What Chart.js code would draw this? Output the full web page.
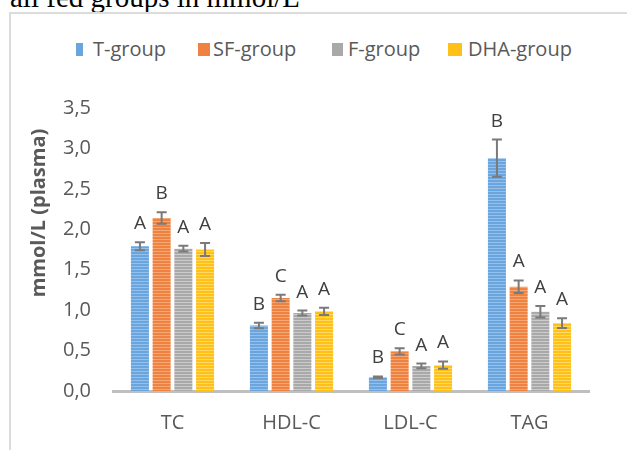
<!DOCTYPE html>
<html>
<head>
<meta charset="utf-8">
<script src="https://cdn.jsdelivr.net/npm/chart.js@4"></script>
<style>
    body { margin: 0; background: #fff; }
    #wrap { position: relative; width: 627px; height: 450px; overflow: hidden; }
    #caption { position: absolute; left: 10px; top: -17px; font: 29px/29px "Liberation Serif", serif; color: #000; white-space: nowrap; }
    #frame { position: absolute; left: 9px; top: 12px; width: 640px; height: 460px; border-left: 2px solid #dcdcdc; border-top: 2px solid #dcdcdc; }
    #legend { position: absolute; left: 0; top: 0; font: 20px/20px "Open Sans", sans-serif; color: #595959; }
    .box { position: absolute; top: 43px; height: 13px; }
    .txt { position: absolute; top: 39px; white-space: nowrap; }
    canvas { position: absolute; left: 0; top: 0; }
</style>
</head>
<body>
<div id="wrap">
    <div id="caption">all fed groups in mmol/L</div>
    <div id="frame"></div>
    <div id="legend"></div>
    <canvas id="myChart" width="627" height="450"></canvas>
</div>
<script>
const categories = ['TC', 'HDL-C', 'LDL-C', 'TAG'];
const groups = ['T-group', 'SF-group', 'F-group', 'DHA-group'];
const yTickLabels = ['0,0', '0,5', '1,0', '1,5', '2,0', '2,5', '3,0', '3,5'];

// means
const tGroup = [1.79, 0.81, 0.17, 2.88];
const sfGroup = [2.14, 1.15, 0.49, 1.29];
const fGroup = [1.76, 0.965, 0.31, 0.98];
const dhaGroup = [1.75, 0.985, 0.32, 0.84];

// error bars (+/-)
const tErr = [0.05, 0.035, 0.01, 0.23];
const sfErr = [0.07, 0.04, 0.04, 0.077];
const fErr = [0.035, 0.03, 0.03, 0.07];
const dhaErr = [0.08, 0.045, 0.045, 0.06];

// letters above bars
const tLetters = ['A', 'B', 'B', 'B'];
const sfLetters = ['B', 'C', 'C', 'A'];
const fLetters = ['A', 'A', 'A', 'A'];
const dhaLetters = ['A', 'A', 'A', 'A'];

const colors = [
    ['#6aa5de', '#93c0ec'],
    ['#ef8240', '#f6a874'],
    ['#a9a9a9', '#cbcbcb'],
    ['#ffc118', '#ffd866']
];

// legend placement
const legendBoxes = [[76, 7], [198, 12], [332, 11], [448, 14]];
const legendText = [93, 213, 348, 468];

const makeStripes = (base, light) =>
{
    const c = document.createElement('canvas');
    c.width = 4;
    c.height = 3;
    const g = c.getContext('2d');
    g.fillStyle = base;
    g.fillRect(0, 0, 4, 3);
    g.fillStyle = light;
    g.fillRect(0, 2, 4, 1);
    return g.createPattern(c, 'repeat');
}

const legend = document.getElementById('legend');
groups.forEach((name, i) =>
{
    const box = document.createElement('span');
    box.className = 'box';
    box.style.left = legendBoxes[i][0] + 'px';
    box.style.width = legendBoxes[i][1] + 'px';
    box.style.background = colors[i][0];
    legend.appendChild(box);
    const txt = document.createElement('span');
    txt.className = 'txt';
    txt.style.left = legendText[i] + 'px';
    txt.textContent = name;
    legend.appendChild(txt);
});

const values = [tGroup, sfGroup, fGroup, dhaGroup];
const errors = [tErr, sfErr, fErr, dhaErr];
const letters = [tLetters, sfLetters, fLetters, dhaLetters];

const errorBars = {
    id: 'errorBars',
    afterDatasetsDraw(chart)
    {
        const ctx = chart.ctx;
        const y = chart.scales.y;
        ctx.save();
        chart.data.datasets.forEach((ds, d) =>
        {
            chart.getDatasetMeta(d).data.forEach((bar, i) =>
            {
                const v = values[d][i];
                const e = errors[d][i];
                const top = y.getPixelForValue(v + e);
                const bot = y.getPixelForValue(v - e);
                ctx.strokeStyle = '#7a7a7a';
                ctx.lineWidth = 2;
                ctx.beginPath();
                ctx.moveTo(bar.x, top);
                ctx.lineTo(bar.x, bot);
                ctx.moveTo(bar.x - 5, top);
                ctx.lineTo(bar.x + 5, top);
                ctx.moveTo(bar.x - 5, bot);
                ctx.lineTo(bar.x + 5, bot);
                ctx.stroke();

                ctx.fillStyle = '#404040';
                ctx.font = '19px "Open Sans"';
                ctx.textAlign = 'center';
                ctx.textBaseline = 'alphabetic';
                ctx.fillText(letters[d][i], bar.x, top - 13);
            });
        });

        // y axis title
        ctx.translate(39, 213);
        ctx.rotate(-Math.PI / 2);
        ctx.fillStyle = '#595959';
        ctx.font = 'bold 20px "Open Sans"';
        ctx.textAlign = 'center';
        ctx.textBaseline = 'middle';
        ctx.fillText('mmol/L (plasma)', 0, 0);
        ctx.restore();
    }
};

const ctx = document.getElementById('myChart').getContext('2d');
const myChart = new Chart(ctx, {
    type: 'bar',
    data: {
        labels: categories,
        datasets: values.map((arr, i) => ({
            label: groups[i],
            data: arr,
            backgroundColor: makeStripes(colors[i][0], colors[i][1]),
            borderWidth: 0,
            categoryPercentage: 0.73,
            barPercentage: 0.83
        }))
    },
    options: {
        responsive: false,
        animation: false,
        layout: { padding: { top: 108, right: 38, left: 0, bottom: 0 } },
        plugins: {
            legend: { display: false },
            tooltip: { enabled: false }
        },
        scales: {
            x: {
                grid: { display: false, drawTicks: false },
                border: { display: true, color: '#bfbfbf', width: 3 },
                ticks: { color: '#595959', font: { family: 'Open Sans', size: 20 }, padding: 20 },
                afterFit: (s) => { s.height = 59; }
            },
            y: {
                min: 0,
                max: 3.5,
                grid: { display: false, drawTicks: false },
                border: { display: false },
                ticks: {
                    stepSize: 0.5,
                    color: '#595959',
                    font: { family: 'Open Sans', size: 20 },
                    padding: 22,
                    callback: (v, i) => yTickLabels[i]
                },
                afterFit: (s) => { s.width = 113; }
            }
        }
    },
    plugins: [errorBars]
});
</script>
</body>
</html>
